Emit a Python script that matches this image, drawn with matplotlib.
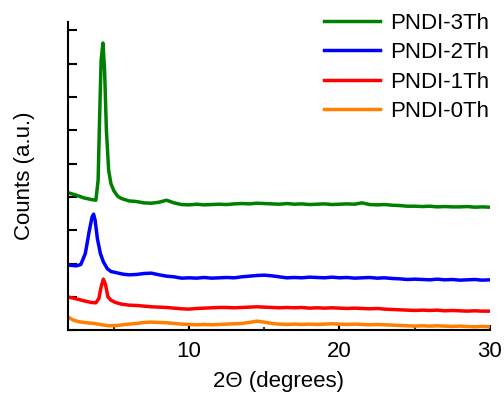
import matplotlib
matplotlib.use("Agg")
import matplotlib.pyplot as plt
from matplotlib.ticker import MultipleLocator, NullFormatter

plt.rcParams['font.family'] = ['Liberation Sans', 'DejaVu Sans']

# shared 2-theta grid for the flat part of every trace (6.5 .. 30 deg)
tail_x = [6.5, 7.0, 7.5, 8.0, 8.5, 9.0, 9.5, 10.0, 10.5, 11.0, 11.5, 12.0,
          12.5, 13.0, 13.5, 14.0, 14.5, 15.0, 15.5, 16.0, 16.5, 17.0, 17.5, 18.0,
          18.5, 19.0, 19.5, 20.0, 20.5, 21.0, 21.5, 22.0, 22.5, 23.0, 23.5, 24.0,
          24.5, 25.0, 25.5, 26.0, 26.5, 27.0, 27.5, 28.0, 28.5, 29.0, 29.5, 30.0]

# PNDI-3Th (offset trace, top)
th3_x = [2.0, 2.5, 3.0, 3.5, 3.8, 3.95, 4.05, 4.15, 4.27, 4.38, 4.5, 4.65,
         4.8, 5.0, 5.25, 5.5, 6.0]
th3_y = [4.12, 4.05, 3.97, 3.92, 3.9, 4.5, 6.4, 8.1, 8.62, 7.8, 6.0, 4.8,
         4.4, 4.18, 4.02, 3.95, 3.88]
th3_tail = [3.86, 3.82, 3.81, 3.84, 3.9, 3.82, 3.77, 3.76, 3.78, 3.76, 3.77, 3.78,
            3.77, 3.79, 3.8, 3.79, 3.81, 3.8, 3.79, 3.78, 3.8, 3.78, 3.79, 3.77,
            3.78, 3.79, 3.77, 3.78, 3.79, 3.78, 3.82, 3.77, 3.76, 3.77, 3.75, 3.74,
            3.72, 3.72, 3.71, 3.72, 3.7, 3.71, 3.7, 3.7, 3.71, 3.69, 3.7, 3.69]

# PNDI-2Th
th2_x = [2.0, 2.5, 2.8, 3.1, 3.35, 3.55, 3.65, 3.75, 3.9, 4.1, 4.3, 4.55,
         4.8, 5.2, 5.6, 6.0]
th2_y = [1.95, 1.93, 1.97, 2.3, 2.95, 3.4, 3.48, 3.3, 2.75, 2.3, 2.05, 1.85,
         1.76, 1.72, 1.68, 1.66]
th2_tail = [1.67, 1.7, 1.71, 1.66, 1.62, 1.6, 1.56, 1.57, 1.56, 1.58, 1.56, 1.57,
            1.58, 1.57, 1.6, 1.62, 1.64, 1.65, 1.63, 1.6, 1.57, 1.58, 1.57, 1.59,
            1.58, 1.57, 1.59, 1.57, 1.58, 1.56, 1.57, 1.58, 1.56, 1.57, 1.55, 1.54,
            1.52, 1.53, 1.52, 1.51, 1.53, 1.51, 1.52, 1.5, 1.51, 1.52, 1.5, 1.51]

# PNDI-1Th
th1_x = [2.0, 2.5, 3.0, 3.5, 3.8, 4.0, 4.15, 4.3, 4.45, 4.6, 4.8, 5.1, 5.5, 6.0]
th1_y = [0.99, 0.94, 0.88, 0.83, 0.82, 0.95, 1.3, 1.53, 1.35, 1.0, 0.9, 0.83,
         0.78, 0.75]
th1_tail = [0.74, 0.72, 0.7, 0.69, 0.68, 0.66, 0.64, 0.63, 0.65, 0.66, 0.67, 0.68,
            0.68, 0.67, 0.68, 0.69, 0.7, 0.69, 0.68, 0.67, 0.68, 0.67, 0.68, 0.66,
            0.67, 0.66, 0.67, 0.66, 0.65, 0.66, 0.65, 0.64, 0.65, 0.63, 0.62, 0.61,
            0.6, 0.59, 0.6, 0.59, 0.6, 0.58, 0.59, 0.58, 0.57, 0.58, 0.57, 0.57]

# PNDI-0Th
th0_x = [2.0, 2.3, 2.7, 3.2, 3.7, 4.2, 4.7, 5.2, 5.6, 6.0]
th0_y = [0.38, 0.3, 0.25, 0.22, 0.2, 0.16, 0.13, 0.14, 0.16, 0.18]
th0_tail = [0.2, 0.23, 0.24, 0.23, 0.22, 0.2, 0.18, 0.17, 0.16, 0.17, 0.16, 0.17,
            0.18, 0.19, 0.2, 0.23, 0.27, 0.24, 0.2, 0.18, 0.17, 0.18, 0.17, 0.18,
            0.17, 0.18, 0.19, 0.18, 0.17, 0.18, 0.17, 0.16, 0.17, 0.16, 0.15, 0.14,
            0.13, 0.12, 0.13, 0.12, 0.13, 0.12, 0.11, 0.12, 0.11, 0.1, 0.11, 0.1]

series = [
    ("PNDI-3Th", th3_x, th3_y, th3_tail, "#008000"),
    ("PNDI-2Th", th2_x, th2_y, th2_tail, "#0000ff"),
    ("PNDI-1Th", th1_x, th1_y, th1_tail, "#ff0000"),
    ("PNDI-0Th", th0_x, th0_y, th0_tail, "#ff8000"),
]

fig = plt.figure(figsize=(5.04, 3.93), dpi=100)
ax = fig.add_axes([0.135, 0.160, 0.837, 0.784])

for name, xs, ys, tail, col in series:
    ax.plot(xs + tail_x, ys + tail, color=col, lw=2.5, label=name)

ax.set_xlim(1.95, 30)
ax.set_ylim(0, 9.25)
ax.xaxis.set_major_locator(MultipleLocator(10))
ax.xaxis.set_minor_locator(MultipleLocator(5))
ax.yaxis.set_major_locator(MultipleLocator(1))
ax.yaxis.set_major_formatter(NullFormatter())
ax.tick_params(axis='y', direction='in', length=6.5, width=1.5)
ax.tick_params(axis='x', which='major', direction='in', length=3.5, width=1.5,
               labelsize=16, pad=8)
ax.tick_params(axis='x', which='minor', direction='in', length=2, width=1.2)
for s in ['top', 'right']:
    ax.spines[s].set_visible(False)
for s in ['left', 'bottom']:
    ax.spines[s].set_linewidth(1.5)

ax.set_xlabel("2\u0398 (degrees)", fontsize=16, labelpad=6)
ax.set_ylabel("Counts (a.u.)", fontsize=16, labelpad=20)

ax.legend(loc='upper right', bbox_to_anchor=(1.045, 1.095), frameon=False,
          fontsize=16, handlelength=2.5, handletextpad=0.45, labelspacing=0.38)

fig.savefig("out.png", dpi=100)
